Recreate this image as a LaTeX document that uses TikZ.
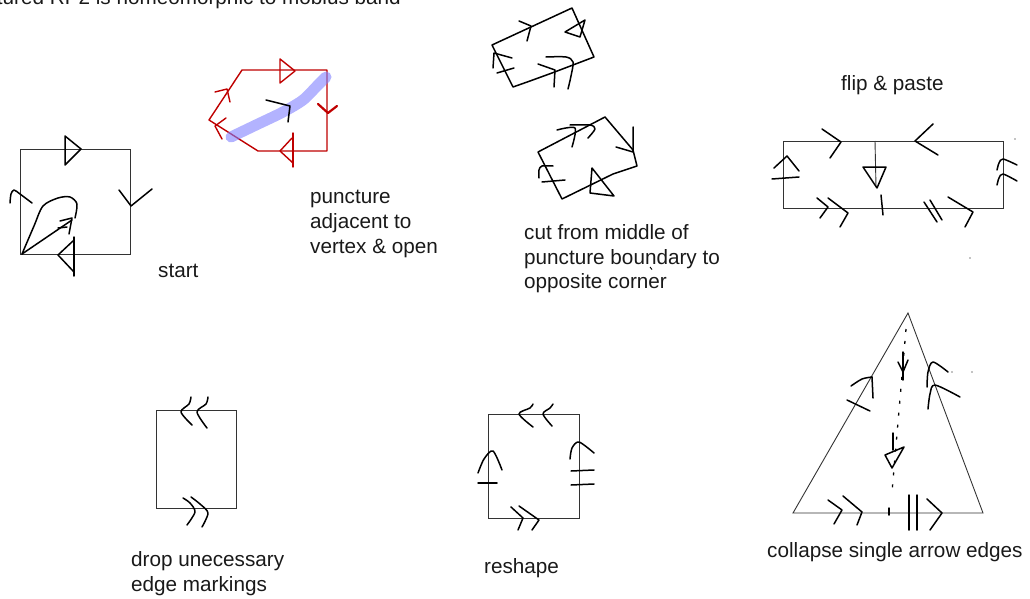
\documentclass[tikz,border=0pt]{standalone}
\usepackage{fontspec}
\setmainfont{Liberation Sans}
\begin{document}
\begin{tikzpicture}[x=1pt,y=-1pt,
 frame/.style={draw=black!80, line width=0.9pt},
 pen/.style={draw=black, line width=1.5pt, line cap=round, line join=round},
 rpen/.style={draw=red!75!black, line width=1.4pt, line cap=round, line join=round},
 hl/.style={draw=blue!50!white, line width=11pt, line cap=round, opacity=0.6},
 dots/.style={draw=black, line width=1.3pt, dash pattern=on 3pt off 9pt},
 lbl/.style={anchor=base west, inner sep=0pt, font=\fontsize{20.7}{24.5}\selectfont, text=black!90}]
\useasboundingbox (0,0) rectangle (1030,599);

% title (cut off at top, as in the reference)
\node[lbl, anchor=base east] (title) at (401,5) {Punctured RP2 is homeomorphic to mobius band};

% ---------- start ----------
\draw[frame] (20,149) rectangle (130,254);
\draw[pen] (65,136) -- (81,149) -- (65,165) -- cycle;
\draw[pen] (119,190) -- (131,206) -- (152,189);
\draw[pen] plot[smooth] coordinates {(10,203) (11,194) (14,190) (20,194) (32,203)};
\draw[pen] (74,237) -- (74,276);
\draw[pen] (73,241) -- (58,255) -- (74,272);
\draw[pen] plot[smooth] coordinates {(22,254) (34,226) (43,206) (58,198) (70,197) (77,204) (75,218)};
\draw[pen] (22,254) -- (72,220);
\draw[pen] (60,221) -- (72,218) -- (69,234);
\draw[pen] (58,228) -- (67,227);
\node[lbl] (startlbl) at (158,277) {start};

% ---------- puncture (red) ----------
\draw[rpen] (242,70) -- (327,70) -- (327,151) -- (258,151) -- (209,120) -- cycle;
\draw[rpen] (280,59) -- (295,71) -- (280,83) -- cycle;
\draw[rpen, line width=2.2pt] (318,104) -- (328,113) -- (337,106);
\draw[rpen] (293,133) -- (293,167);
\draw[rpen] (292,138) -- (280,151) -- (293,163);
\draw[rpen] (215,92) -- (227,89) -- (230,102);
\draw[rpen] (226,118) -- (215,126) -- (222,139);
\draw[hl] plot[smooth] coordinates {(231,137) (256,125) (283,112) (303,100) (317,86) (326,77)};
\draw[pen] (266,100) -- (290,106) -- (288,122);
\node[lbl] (p1) at (310,203.5) {puncture};
\node[lbl] (p2) at (310,228.3) {adjacent to};
\node[lbl] (p3) at (310,253) {vertex \& open};

% ---------- cut pieces ----------
\draw[pen] (513,87) -- (492,45) -- (572,8) -- (594,57) -- (552,73) -- (530,81) -- (513,87);
\draw[pen] (519,21) -- (531,26) -- (527,41);
\draw[pen] (565,32) -- (585,20) -- (580,37) -- cycle;
\draw[pen] (493,68) -- (494,53) -- (512,58);
\draw[pen] (497,73) -- (514,68);
\draw[pen] plot[smooth] coordinates {(546,57) (566,57) (573,62) (571,76) (568,89)};
\draw[pen] (538,64) -- (555,70) -- (554,87);

\draw[pen] (538,152) -- (605,117) -- (633,150) -- (637,166) -- (613,174) -- (562,199) -- cycle;
\draw[pen] plot[smooth] coordinates {(557,130) (575,128) (572,147)};
\draw[pen] plot[smooth] coordinates {(570,125) (590,125) (595,129) (588,138)};
\draw[pen] (616,147) -- (633,152) -- (633,127);
\draw[pen] plot[smooth] coordinates {(539,178) (539,170) (542,166) (553,166)};
\draw[pen] (542,182) -- (565,180);
\draw[pen] (592,168) -- (590,193) -- (614,196) -- cycle;
\node[lbl] (c1) at (524,239.3) {cut from middle of};
\node[lbl] (c2) at (524,264) {puncture boundary to};
\node[lbl] (c3) at (524,288.3) {opposite corner};
\draw[line width=0.9pt] (650,267) -- (652,269.5);

% ---------- flip & paste ----------
\node[lbl] (f1) at (841,90.5) {flip \& paste};
\draw[frame] (783,141) rectangle (1003,208);
\draw[frame] (875,141) -- (876,187);
\draw[pen] (881,195) -- (883,215);
\draw[pen] (822,129) -- (841,142) -- (830,158);
\draw[pen] (933,124) -- (915,141) -- (938,155);
\draw[pen] (863,167) -- (886,167) -- (877,188) -- cycle;
\draw[pen] (774,168) -- (787,156) -- (799,171);
\draw[pen] (772,179) -- (799,177);
\draw[pen] plot[smooth] coordinates {(997,170) (999,163) (1003,159) (1017,165)};
\draw[pen] plot[smooth] coordinates {(997,185) (999,178) (1003,174) (1017,181)};
\draw[pen] (817,198) -- (828,207) -- (820,218);
\draw[pen] (828,198) -- (848,213) -- (840,227);
\draw[pen] (924,202) -- (937,222);
\draw[pen] (930,200) -- (942,220);
\draw[pen] (948,197) -- (973,212) -- (965,227);
\fill (1015,139) circle (0.6pt);
\fill (970,258) circle (0.6pt);

% ---------- triangle ----------
\draw[frame] (908,313) -- (983,513) -- (793,513) -- cycle;
\draw[dots] (906,329) -- (892,492);
\draw[pen] (903,352) -- (903,380);
\draw[pen] (898,362) -- (903,372) -- (908,360);
\draw[pen] (893,433) -- (893,450);
\draw[pen] (885,455) -- (904,447) -- (892,468) -- cycle;
\draw[pen] plot[smooth] coordinates {(851,386) (862,379) (872,377)};
\draw[pen] (872,377) -- (873,398);
\draw[pen] (847,400) -- (870,411);
\draw[pen] plot[smooth] coordinates {(927,387) (928,372) (933,362) (948,372)};
\draw[pen] plot[smooth] coordinates {(928,409) (930,394) (935,385) (960,397)};
\fill (952,372) circle (0.6pt);
\fill (972,372) circle (0.6pt);
\draw[pen] (828,500) -- (842,510) -- (834,524);
\draw[pen] (843,496) -- (862,512) -- (857,525);
\draw[pen] (909,495) -- (909,530);
\draw[pen] (917,495) -- (917,530);
\draw[pen] (927,499) -- (942,513) -- (930,530);
\draw[pen] (889,508) -- (889,515);
\node[lbl] (t1) at (767,557.5) {collapse single arrow edges};

% ---------- drop ----------
\draw[frame] (156,410) rectangle (236,508);
\draw[pen] plot[smooth] coordinates {(191,397) (189,404) (181,412) (192,425)};
\draw[pen] plot[smooth] coordinates {(208,397) (206,404) (197,412) (207,428)};
\draw[pen] plot[smooth] coordinates {(183,498) (190,503) (195,512) (187,525)};
\draw[pen] plot[smooth] coordinates {(191,497) (200,504) (208,513) (202,527)};
\node[lbl] (d1) at (131,566.7) {drop unecessary};
\node[lbl] (d2) at (131,591.5) {edge markings};

% ---------- reshape ----------
\draw[frame] (488,414) rectangle (579,518);
\draw[pen] plot[smooth] coordinates {(533,404) (530,408) (519,414) (533,427)};
\draw[pen] plot[smooth] coordinates {(553,404) (550,408) (543,414) (552,426)};
\draw[pen] plot[smooth] coordinates {(478,473) (484,459) (493,451) (502,470)};
\draw[pen] (478,483) -- (497,483);
\draw[pen] plot[smooth] coordinates {(570,459) (572,448) (579,442) (594,453)};
\draw[pen] (571,471) -- (594,470);
\draw[pen] (571,485) -- (594,484);
\draw[pen] (511,507) -- (523,518) -- (518,530);
\draw[pen] (519,506) -- (539,520) -- (532,530);
\node[lbl] (r1) at (484,573.5) {reshape};
\end{tikzpicture}
\end{document}
